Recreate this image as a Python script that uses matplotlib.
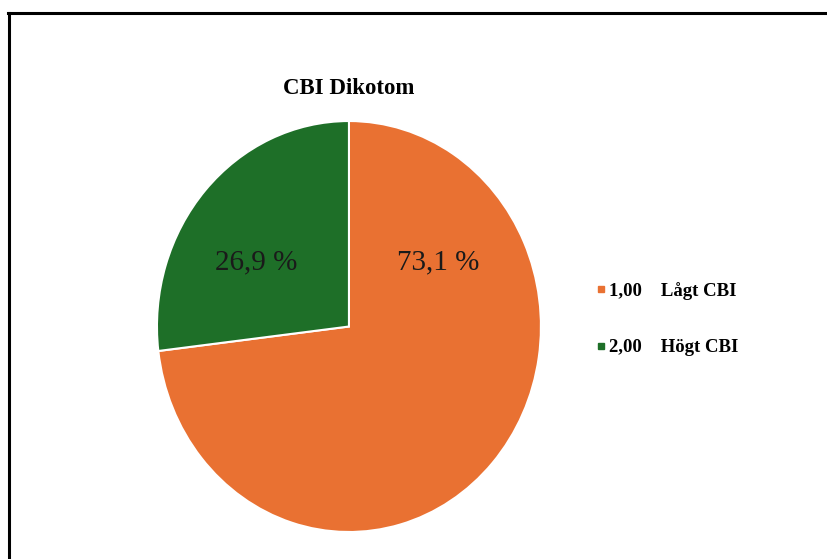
import matplotlib.pyplot as plt
from matplotlib.lines import Line2D

# CBI split into two groups
categories = ["1,00", "2,00"]
category_names = ["Lågt CBI", "Högt CBI"]
shares = [73.1, 26.9]
colors = ["#E97132", "#1E6F28"]

plt.rcParams['font.family'] = ['Liberation Serif', 'DejaVu Serif']

fig = plt.figure(figsize=(8.27, 5.59), dpi=100)
ax = fig.add_axes([0.1898, 0.0483, 0.4643, 0.7352])

wedges, _ = ax.pie(shares, colors=colors, startangle=90, counterclock=False,
                   wedgeprops=dict(edgecolor='white', linewidth=1.5))
ax.set_aspect('auto')
ax.set_xlim(-1, 1)
ax.set_ylim(-1, 1)
ax.axis('off')

# percentage labels inside the wedges
label_pos = [(0.463, 0.31), (-0.484, 0.31)]
for val, (x, y) in zip(shares, label_pos):
    ax.text(x, y, f"{val:.1f}".replace('.', ',') + " %", ha='center', va='center',
            fontsize=21, color='#1a1a1a')

fig.text(349 / 827, 1 - 88.5 / 559, "CBI Dikotom", ha='center', va='center',
         fontsize=16.5, fontweight='bold')

handles = [Line2D([], [], marker='s', linestyle='', markersize=5,
                  markerfacecolor=c, markeredgecolor=c) for c in colors]
labels = [f"{c}    {n}" for c, n in zip(categories, category_names)]
fig.legend(handles, labels, loc='center left', bbox_to_anchor=(578 / 827, 1 - 319 / 559),
           frameon=False, handlelength=0.6, handletextpad=0.15, labelspacing=2.1,
           prop=dict(size=13.5, weight='bold'))

# outer frame (top and left edges)
fig.add_artist(Line2D([8 / 827, 1], [1 - 13 / 559] * 2, color='black', linewidth=2.2,
                      transform=fig.transFigure))
fig.add_artist(Line2D([9 / 827] * 2, [0, 1 - 13 / 559], color='black', linewidth=2.2,
                      transform=fig.transFigure))

fig.savefig("out.png", dpi=100)
